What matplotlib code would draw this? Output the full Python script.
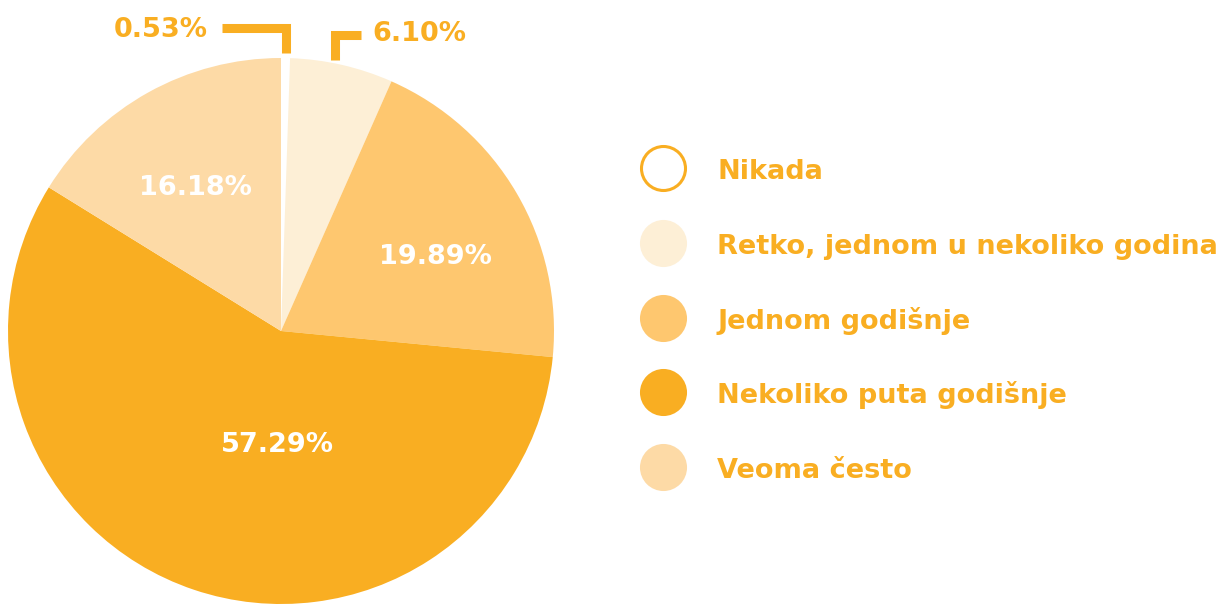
import numpy as np
import matplotlib
matplotlib.use("Agg")
import matplotlib.pyplot as plt

# data
categories = ["Nikada", "Retko, jednom u nekoliko godina", "Jednom godišnje",
              "Nekoliko puta godišnje", "Veoma često"]
shares = [0.53, 6.10, 19.89, 57.29, 16.18]
pct_labels = ["0.53%", "6.10%", "19.89%", "57.29%", "16.18%"]

# style
colors = ["#FFFFFF", "#FDEFD6", "#FEC76F", "#F9AE22", "#FDDAA6"]
orange = "#F9AE22"
W, H = 1231, 607
cx, cy, R = 281, 607 - 331, 273
fs = 19.5

plt.rcParams['font.family'] = ['DejaVu Sans']

fig = plt.figure(figsize=(W / 100, H / 100), dpi=100)
ax = fig.add_axes([0, 0, 1, 1])

wedges, _ = ax.pie(shares, colors=colors, startangle=90, counterclock=False,
                   center=(cx, cy), radius=R, frame=True,
                   wedgeprops=dict(linewidth=0))
ax.set_xlim(0, W)
ax.set_ylim(0, H)
ax.set_aspect('auto')
ax.axis('off')

# inside labels (hand placed: centre x, baseline y in pixels from top)
inside_pos = {2: (435, 264), 3: (277, 452), 4: (195, 195)}
for i, (px, py) in inside_pos.items():
    ax.text(px, H - py, pct_labels[i], color="white", fontsize=fs,
            fontweight="bold", ha="center", va="baseline")

# leader lines for the small slices
lw = 6.5
def mid_x(w):
    a = np.deg2rad((w.theta1 + w.theta2) / 2)
    return cx + R * np.cos(a)

x0 = mid_x(wedges[0])
ax.plot([x0, x0, 222], [H - 53, H - 27.5, H - 27.5], color=orange, lw=lw,
        solid_joinstyle="miter", solid_capstyle="butt")
ax.text(208, H - 37, pct_labels[0], color=orange, fontsize=fs,
        fontweight="bold", ha="right", va="baseline")

x1 = 334.5
ax.plot([x1, x1, 361], [H - 60, H - 34.5, H - 34.5], color=orange, lw=lw,
        solid_joinstyle="miter", solid_capstyle="butt")
ax.text(372, H - 41, pct_labels[1], color=orange, fontsize=fs,
        fontweight="bold", ha="left", va="baseline")

# legend
rows = [168, 243, 318, 392, 467]
for i, lab in enumerate(categories):
    y = H - rows[i]
    ax.scatter([663], [y], s=(44 * 0.72) ** 2, color=colors[i],
               edgecolors=orange if i == 0 else colors[i], linewidths=2.2,
               zorder=3)
    ax.text(717, y - 11, lab, color=orange, fontsize=fs, fontweight="bold",
            ha="left", va="baseline")

fig.savefig("out.png", dpi=100)
